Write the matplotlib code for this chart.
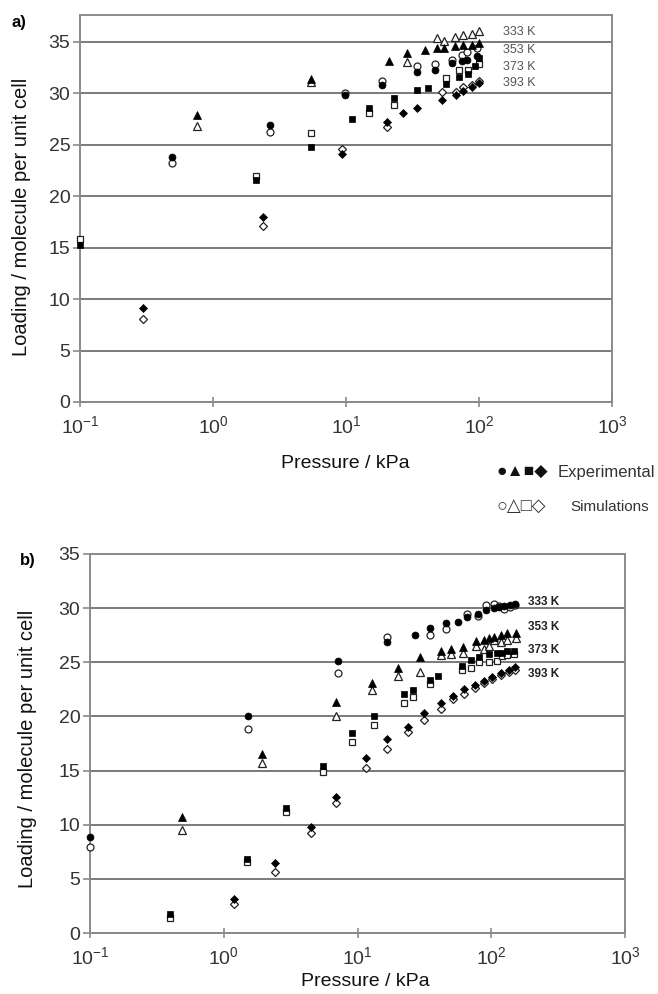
import numpy as np
import matplotlib
matplotlib.use("Agg")
import matplotlib.pyplot as plt
from matplotlib.ticker import LogLocator, NullLocator, LogFormatterSciNotation

plt.rcParams['font.family'] = ['Liberation Sans', 'DejaVu Sans']
plt.rcParams['mathtext.fontset'] = 'custom'
plt.rcParams['mathtext.rm'] = 'Liberation Sans'
plt.rcParams['axes.unicode_minus'] = False

nan = np.nan

# ---- panel a) ----
a_P333 = [0.49, 2.69, 9.8, 18.6, 34, 47, 63, 75, 81, 97]
a_exp333 = [23.8, 26.9, 29.8, 30.8, 32.1, 32.3, 32.9, 33.1, 33.2, 33.6]
a_sim333 = [23.2, 26.2, 30.0, 31.2, 32.6, 32.8, 33.2, 33.7, 34.0, 34.4]

a_P353 = [0.76, 5.5, 21, 29, 39, 48, 55, 66, 76, 88, 100]
a_exp353 = [27.9, 31.4, 33.1, 33.9, 34.2, 34.4, 34.4, 34.6, 34.7, 34.7, 34.9]
a_sim353 = [26.8, 31.1, nan, 33.0, nan, 35.4, 35.1, 35.5, 35.7, 35.8, 36.0]

a_P373 = [0.1, 2.1, 5.5, 11.1, 14.9, 23, 34, 41, 56, 71, 83, 93, 100]
a_exp373 = [15.3, 21.6, 24.8, 27.5, 28.6, 29.5, 30.3, 30.5, 30.9, 31.6, 31.9, 32.6, 33.4]
a_sim373 = [15.8, 22.0, 26.1, nan, 28.1, 28.9, nan, nan, 31.5, 32.3, 32.3, nan, 32.8]

a_P393 = [0.3, 2.38, 9.3, 20.3, 27, 34, 53, 67, 76, 88, 100]
a_exp393 = [9.1, 18.0, 24.1, 27.2, 28.1, 28.6, 29.3, 29.8, 30.2, 30.6, 31.0]
a_sim393 = [8.1, 17.1, 24.6, 26.7, nan, nan, 30.1, 30.1, 30.6, 30.8, 31.2]

# ---- panel b) ----
b_P333 = [0.1, 1.51, 7.1, 16.7, 27, 35, 46, 56, 66, 79, 92, 105, 115, 125, 137, 150]
b_exp333 = [8.9, 20.0, 25.1, 26.9, 27.5, 28.2, 28.6, 28.7, 29.2, 29.5, 29.8, 30.0, 30.1, 30.2, 30.3, 30.4]
b_sim333 = [7.9, 18.8, 24.0, 27.3, nan, 27.5, 28.1, nan, 29.5, 29.3, 30.3, 30.4, 30.2, 29.9, 30.1, 30.3]

b_P353 = [0.49, 1.92, 6.9, 12.9, 20.2, 29.5, 42, 50, 61, 77, 89, 97, 105, 118, 131, 152]
b_exp353 = [10.7, 16.5, 21.3, 23.1, 24.5, 25.5, 26.0, 26.2, 26.4, 27.0, 27.1, 27.2, 27.3, 27.5, 27.7, 27.7]
b_sim353 = [9.5, 15.7, 20.0, 22.4, 23.7, 24.1, 25.7, 25.8, 25.9, 26.5, 26.2, 26.5, 27.1, 26.9, 27.1, 27.2]

b_P373 = [0.395, 1.48, 2.9, 5.5, 9.1, 13.2, 22.4, 26, 35, 40, 60, 71, 81, 97, 111, 120, 131, 149]
b_exp373 = [1.8, 6.8, 11.5, 15.4, 18.5, 20.0, 22.1, 22.4, 23.4, 23.7, 24.7, 25.2, 25.5, 25.8, 25.9, 25.9, 26.0, 26.0]
b_sim373 = [1.4, 6.6, 11.2, 14.9, 17.6, 19.2, 21.2, 21.8, 23.0, nan, 24.3, 24.5, 25.0, 25.0, 25.1, 25.6, 25.7, 25.8]

b_P393 = [1.19, 2.4, 4.47, 6.9, 11.5, 16.7, 24, 31.6, 42, 52, 63, 75, 89, 102, 119, 136, 150]
b_exp393 = [3.1, 6.5, 9.8, 12.6, 16.2, 17.9, 19.0, 20.3, 21.2, 21.9, 22.5, 22.9, 23.3, 23.6, 24.0, 24.3, 24.6]
b_sim393 = [2.7, 5.6, 9.2, 12.0, 15.2, 17.0, 18.6, 19.7, 20.7, 21.6, 22.1, 22.6, 23.1, 23.5, 23.8, 24.1, 24.3]

temps = ["333 K", "353 K", "373 K", "393 K"]
markers = ["o", "^", "s", "D"]
msizes = [5, 5.5, 4.5, 4]

W, H = 658, 994
fig = plt.figure(figsize=(W / 100, H / 100), dpi=100)


def px_axes(l, t, r, b):
    return fig.add_axes([l / W, 1 - b / H, (r - l) / W, (b - t) / H])


def style_axes(ax, ytop):
    ax.set_xscale("log")
    ax.set_xlim(0.1, 1000)
    ax.set_ylim(0, ytop)
    ax.set_yticks(np.arange(0, 36, 5))
    ax.xaxis.set_major_locator(LogLocator(base=10, numticks=10))
    ax.xaxis.set_minor_locator(NullLocator())
    ax.xaxis.set_major_formatter(LogFormatterSciNotation())
    ax.grid(axis="y", color="#707070", lw=1.3, zorder=0)
    ax.set_axisbelow(True)
    for s in ax.spines.values():
        s.set_color("#8a8a8a")
        s.set_linewidth(1.4)
    ax.tick_params(axis="y", direction="out", length=5, width=1.2, color="#8a8a8a",
                   labelsize=14, labelcolor="#333333", pad=2)
    ax.tick_params(axis="x", direction="inout", length=7, width=1.2, color="#8a8a8a",
                   labelsize=14, labelcolor="#333333", pad=6)


def draw(ax, series):
    for (P, exp, sim), m, ms in zip(series, markers, msizes):
        ax.plot(P, sim, ls="none", marker=m, ms=ms, mfc="white", mec="#222222",
                mew=0.9, zorder=3, clip_on=False)
        ax.plot(P, exp, ls="none", marker=m, ms=ms, mfc="black", mec="black",
                mew=0.5, zorder=4, clip_on=False)


ax_a = px_axes(80, 15, 612, 402)
style_axes(ax_a, 37.6)
draw(ax_a, [(a_P333, a_exp333, a_sim333), (a_P353, a_exp353, a_sim353),
            (a_P373, a_exp373, a_sim373), (a_P393, a_exp393, a_sim393)])

ax_b = px_axes(90, 554, 625, 933)
style_axes(ax_b, 35)
draw(ax_b, [(b_P333, b_exp333, b_sim333), (b_P353, b_exp353, b_sim353),
            (b_P373, b_exp373, b_sim373), (b_P393, b_exp393, b_sim393)])


def ftext(x, y, s, **kw):
    fig.text(x / W, 1 - y / H, s, **kw)


# panel tags and axis titles
ftext(12, 23, "a)", fontsize=12, fontweight="bold", va="center")
ftext(20, 560, "b)", fontsize=12, fontweight="bold", va="center")
ftext(22, 217, "Loading / molecule per unit cell", fontsize=14.5, rotation=90,
      ha="center", va="center", color="#111111")
ftext(28, 749, "Loading / molecule per unit cell", fontsize=14.5, rotation=90,
      ha="center", va="center", color="#111111")
ftext(345, 463, "Pressure / kPa", fontsize=14, ha="center", va="center", color="#111111")
ftext(365, 982, "Pressure / kPa", fontsize=14, ha="center", va="center", color="#111111")

# legend made of symbols
ftext(496, 472, "\u25cf\u25b2\u25a0\u25c6", fontsize=12.5, va="center", color="#111111")
ftext(558, 472, "Experimental", fontsize=12, va="center", color="#333333")
ftext(496, 507, "\u25cb\u25b3\u25a1\u25c7", fontsize=13, va="center", color="#333333")
ftext(570, 507, "Simulations", fontsize=11, va="center", color="#333333")

# temperature labels
for t, y in zip(temps, [32, 50, 67, 83]):
    ftext(503, y, t, fontsize=9, va="center", color="#555555")
for t, y in zip(temps, [602, 627, 650, 674]):
    ftext(528, y, t, fontsize=8.5, va="center", fontweight="bold", color="#222222")

fig.savefig("out.png", dpi=100)
